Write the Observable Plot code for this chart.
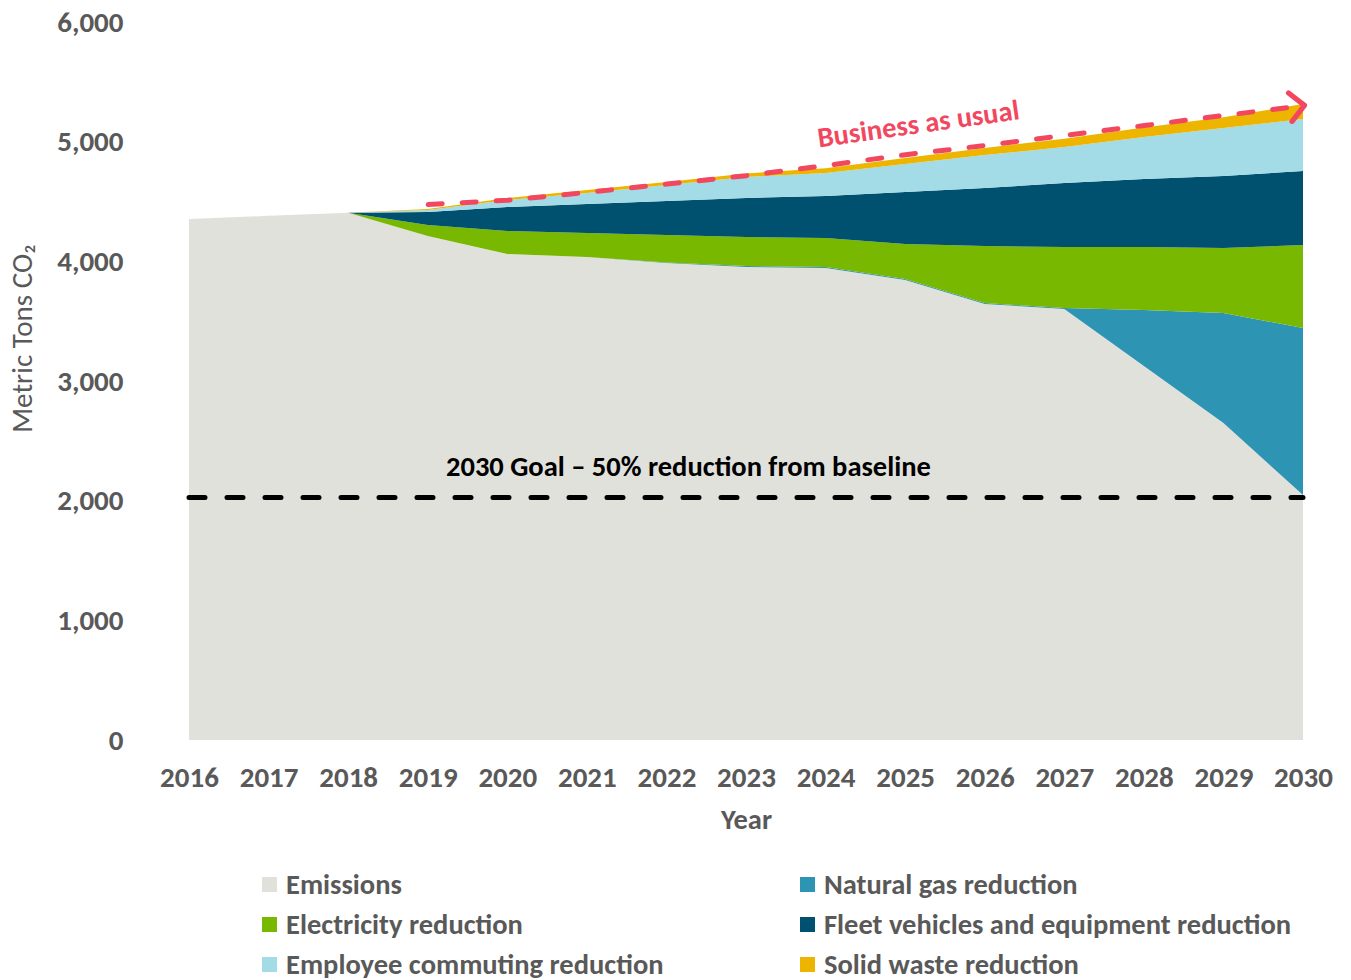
<!DOCTYPE html>
<html>
<head>
<meta charset="utf-8">
<script src="https://cdn.jsdelivr.net/npm/d3@7"></script>
<script src="https://cdn.jsdelivr.net/npm/@observablehq/plot@0.6"></script>
<style>
  body { margin: 0; background: #fff; font-family: Calibri, Carlito, Lato, sans-serif; }
  #legend { display: grid; grid-template-columns: 538px 540px; padding-left: 262px; margin-top: 14px; }
  .item { height: 40px; display: flex; align-items: center; font-weight: bold; font-size: 28.5px; color: #595959; white-space: nowrap; }
  .sw { width: 15px; height: 15px; margin-right: 9px; flex: none; }
</style>
</head>
<body>
<div id="chart"></div>
<div id="legend"></div>
<script>
const years = [2016, 2017, 2018, 2019, 2020, 2021, 2022, 2023, 2024, 2025, 2026, 2027, 2028, 2029, 2030];
const emissions   = [4354, 4380, 4405, 4212, 4061, 4036, 3986, 3953, 3944, 3844, 3643, 3602, 3125, 2649, 2047];
const naturalGas  = [0, 0, 0, 0, 0, 0, 5, 8, 8, 8, 8, 8, 468, 919, 1396];
const electricity = [0, 0, 0, 92, 192, 201, 229, 242, 243, 293, 477, 510, 527, 543, 693];
const fleet       = [0, 0, 0, 108, 201, 242, 284, 326, 351, 434, 485, 534, 568, 602, 619];
const commuting   = [0, 0, 0, 17, 58, 92, 134, 176, 192, 234, 275, 301, 351, 401, 434];
const solidWaste  = [0, 0, 0, 8, 17, 25, 25, 30, 40, 50, 60, 70, 80, 90, 126];

const seriesNames = ["Emissions", "Natural gas reduction", "Electricity reduction",
  "Fleet vehicles and equipment reduction", "Employee commuting reduction", "Solid waste reduction"];
const seriesColors = ["#e1e1dc", "#2e94b4", "#78b800", "#00506f", "#a3dbe7", "#edb500"];
const seriesValues = [emissions, naturalGas, electricity, fleet, commuting, solidWaste];

const yTicks = [0, 1000, 2000, 3000, 4000, 5000, 6000];
const goalValue = 2030;
const goalLabel = "2030 Goal – 50% reduction from baseline";
const bauYears  = [2019, 2020, 2021, 2022, 2023, 2024, 2025, 2026, 2027, 2028, 2029, 2030];
const bauValues = [4479, 4515, 4580, 4650, 4720, 4805, 4895, 4972, 5056, 5139, 5223, 5306];
const bauLabel = "Business as usual";

const rows = years.flatMap((yr, i) => seriesNames.map((s, k) => ({year: yr, series: s, value: seriesValues[k][i]})));
const bau = bauYears.map((yr, i) => ({year: yr, value: bauValues[i]}));

const font = "Calibri, Carlito, Lato, sans-serif";
const gray = "#595959";
const pink = "#f2485f";

const chart = Plot.plot({
  width: 1351,
  height: 850,
  marginLeft: 189,
  marginRight: 48,
  marginTop: 22,
  marginBottom: 110,
  style: {fontFamily: font, background: "white", color: gray, overflow: "visible"},
  x: {domain: [2016, 2030]},
  y: {domain: [0, 6000]},
  color: {domain: seriesNames, range: seriesColors},
  marks: [
    Plot.areaY(rows, {x: "year", y: "value", z: "series", fill: "series", order: seriesNames}),
    Plot.ruleY([goalValue], {stroke: "black", strokeWidth: 5, strokeDasharray: "16,22", strokeLinecap: "round"}),
    Plot.text([goalLabel], {x: 2022.27, y: 2290, text: d => d, fontSize: 28.5, fontWeight: "bold", fill: "black"}),
    Plot.line(bau, {x: "year", y: "value", stroke: pink, strokeWidth: 5, strokeDasharray: "14,20", strokeLinecap: "round", markerEnd: "arrow"}),
    Plot.text([bauLabel], {x: 2025.16, y: 5150, text: d => d, fontSize: 28.5, fontWeight: "bold", fill: pink, rotate: -8}),
    Plot.axisX({ticks: years, tickFormat: d => String(d), tickSize: 0, tickPadding: 26, fontSize: 29, fontWeight: "bold", label: null}),
    Plot.axisY({ticks: yTicks, tickFormat: d3.format(","), tickSize: 0, tickPadding: 66, fontSize: 29, fontWeight: "bold", label: null}),
    Plot.text(["Year"], {frameAnchor: "bottom", dy: 88, text: d => d, fontSize: 28.5, fontWeight: "bold", fill: gray}),
    Plot.text(["Metric Tons CO₂"], {x: 2016, y: 3360, dx: -167, rotate: -90, text: d => d, fontSize: 29, fill: gray})
  ]
});
d3.select(chart).selectAll("marker")
  .attr("markerWidth", 9.5).attr("markerHeight", 9.5).attr("refX", 1.3).attr("stroke-width", 1.1);
document.getElementById("chart").appendChild(chart);

const legend = document.getElementById("legend");
seriesNames.forEach((name, k) => {
  const item = document.createElement("div");
  item.className = "item";
  const sw = document.createElement("span");
  sw.className = "sw";
  sw.style.background = seriesColors[k];
  item.appendChild(sw);
  item.appendChild(document.createTextNode(name));
  legend.appendChild(item);
});
</script>
</body>
</html>
